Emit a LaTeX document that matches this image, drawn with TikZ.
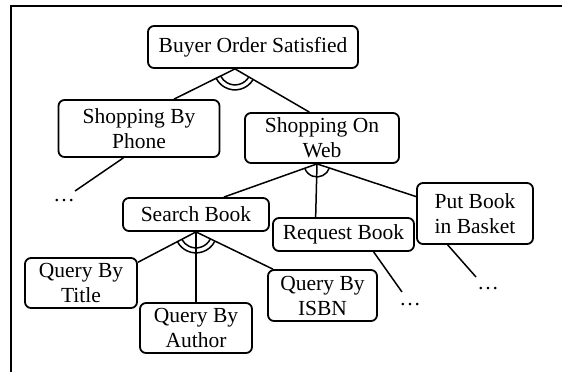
\documentclass[tikz,border=0pt]{standalone}
\usepackage{fontspec}
\setmainfont{Liberation Serif}
\usetikzlibrary{calc}
\tikzset{
  goal/.style={draw, line width=1.8pt, rounded corners=6pt, inner sep=0pt,
    align=center, font=\fontsize{21.5}{25}\selectfont},
  link/.style={line width=1.5pt},
  more/.style={font=\fontsize{21.5}{25}\selectfont, inner sep=0pt, anchor=base},
}
\begin{document}
\begin{tikzpicture}[x=1pt,y=-1pt]
\useasboundingbox (0,0) rectangle (562,372);
% frame (top and left edges only)
\draw[line width=1.8pt] (11,372) -- (11,6) -- (562,6);

% goals
\node[goal, minimum width=210pt, minimum height=42pt] (bos) at (253,47) {Buyer Order Satisfied};
\node[goal, minimum width=161pt, minimum height=57pt] (sbp) at (139,128.5) {Shopping By\\Phone};
\node[goal, minimum width=154pt, minimum height=50pt] (sow) at (322,138) {Shopping On\\Web};
\node[goal, minimum width=146pt, minimum height=33pt] (sb) at (196,214.5) {Search Book};
\node[goal, minimum width=141pt, minimum height=33pt] (rb) at (343.5,234.5) {Request Book};
\node[goal, minimum width=116pt, minimum height=61pt] (pb) at (475,213.5) {Put Book\\in Basket};
\node[goal, minimum width=112pt, minimum height=50pt] (qt) at (81,283) {Query By\\Title};
\node[goal, minimum width=112pt, minimum height=50pt] (qa) at (196,328) {Query By\\Author};
\node[goal, minimum width=109pt, minimum height=51pt] (qi) at (322.5,295.5) {Query By\\ISBN};

% elided sub-goals
\node[more] (m1) at (64,201) {…};
\node[more] (m2) at (410,305) {…};
\node[more] (m3) at (488,289) {…};

% decomposition junctions
\coordinate (j1) at ($(bos.south)+(-18,0)$);
\coordinate (j2) at ($(sow.south)+(-5,0)$);
\coordinate (j3) at (sb.south);
\coordinate (e1) at (75,191);
\coordinate (e2) at (402,292);
\coordinate (e3) at (476,277);

% AND refinement of the root
\draw[link] (j1) -- (sbp.40);
\draw[link] (j1) -- (sow.116);
\draw[link] (j1) ++(29.8:16) arc[start angle=29.8, end angle=152.7, radius=16];
\draw[link] (j1) ++(29.8:21) arc[start angle=29.8, end angle=152.7, radius=21];

% refinement of shopping on the web
\draw[link] (j2) -- (sb.32);
\draw[link] (j2) -- (rb.148);
\draw[link] (j2) -- (pb.164);
\draw[link] (j2) ++(18.8:13) arc[start angle=18.8, end angle=159.8, radius=13];

% AND refinement of the search
\draw[link] (j3) -- (qt.20);
\draw[link] (j3) -- (qa.north);
\draw[link] (j3) -- (qi.152);
\draw[link] (j3) ++(26.3:16) arc[start angle=26.3, end angle=151.1, radius=16];
\draw[link] (j3) ++(26.3:21) arc[start angle=26.3, end angle=151.1, radius=21];

% links to elided sub-goals
\draw[link] (sbp.242) -- (e1);
\draw[link] (rb.-30) -- (e2);
\draw[link] (pb.229) -- (e3);
\end{tikzpicture}
\end{document}
